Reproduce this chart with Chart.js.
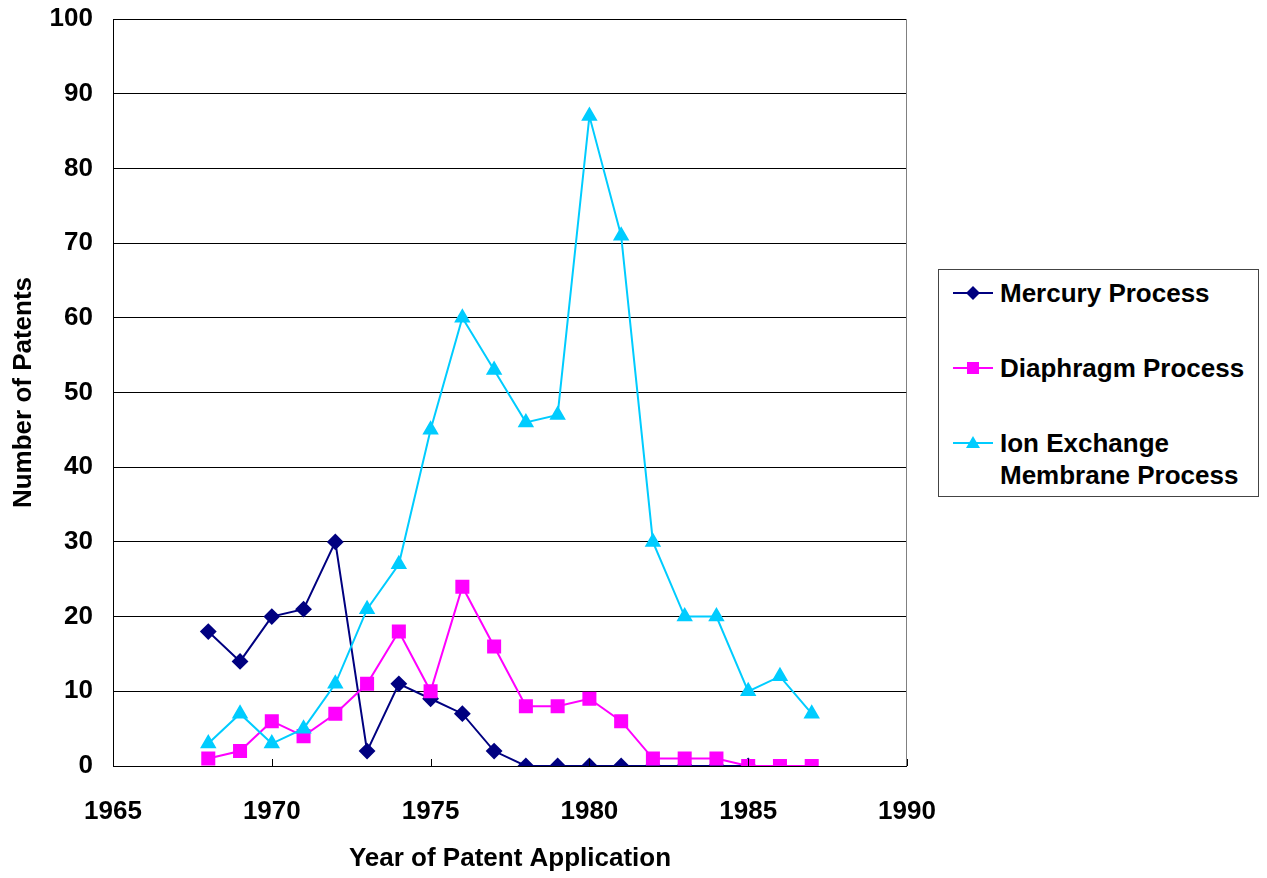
<!DOCTYPE html>
<html><head><meta charset="utf-8">
<script src="https://cdn.jsdelivr.net/npm/chart.js@4/dist/chart.umd.min.js"></script>
<style>
html,body{margin:0;padding:0;background:#fff;}
#wrap{position:relative;width:1267px;height:878px;}
#legend{position:absolute;left:938px;top:269px;width:321px;height:228px;border:1px solid #444;box-sizing:border-box;background:#fff;font-family:"Liberation Sans",Arial,sans-serif;font-weight:bold;font-size:26px;color:#000;}
#legend svg{position:absolute;left:14px;}
#legend span{position:absolute;left:61px;line-height:32px;white-space:nowrap;}
</style></head>
<body><div id="wrap"><canvas id="c" width="1267" height="878"></canvas>
<div id="legend"></div></div>
<script>
const years = [1968,1969,1970,1971,1972,1973,1974,1975,1976,1977,1978,1979,1980,1981,1982,1983,1984,1985,1986,1987];
const mercury = [18,14,20,21,30,2,11,9,7,2,0,0,0,0,0,0,0,0];
const diaphragm = [1,2,6,4,7,11,18,10,24,16,8,8,9,6,1,1,1,0,0,0];
const ionExchange = [3,7,3,5,11,21,27,45,60,53,46,47,87,71,30,20,20,10,12,7];
const seriesNames = ["Mercury Process","Diaphragm Process","Ion Exchange Membrane Process"];
const xTicks = [1965,1970,1975,1980,1985,1990];
const yTicks = [0,10,20,30,40,50,60,70,80,90,100];

const FONT = '"Liberation Sans", Arial, sans-serif';
const toPts = v => v.map((y,i)=>({x:years[i], y}));
const colors = ['#000080','#FF00FF','#00CCFF'];

const innerTicks = {
  id:'innerTicks',
  afterDatasetsDraw(chart){
    const {ctx, chartArea:a, scales:{x}} = chart;
    ctx.save();
    ctx.strokeStyle='#000'; ctx.lineWidth=1;
    xTicks.forEach(t=>{
      const px = Math.round(x.getPixelForValue(t))+0.5;
      ctx.beginPath(); ctx.moveTo(px,a.bottom); ctx.lineTo(px,a.bottom-7); ctx.stroke();
    });
    ctx.beginPath();
    ctx.moveTo(a.left+0.5,a.top); ctx.lineTo(a.left+0.5,a.bottom+0.5); ctx.lineTo(a.right,a.bottom+0.5); ctx.stroke();
    ctx.strokeStyle='#808080';
    ctx.beginPath(); ctx.moveTo(a.right-0.5,a.top); ctx.lineTo(a.right-0.5,a.bottom); ctx.stroke();
    ctx.restore();
  }
};

new Chart(document.getElementById('c'), {
  type:'line',
  data:{datasets:[
    {label:seriesNames[0], data:toPts(mercury), borderColor:colors[0], backgroundColor:colors[0], pointStyle:'rectRot', pointRadius:7, pointHoverRadius:7, borderWidth:2, order:3},
    {label:seriesNames[1], data:toPts(diaphragm), borderColor:colors[1], backgroundColor:colors[1], pointStyle:'rect', pointRadius:8.5, pointHoverRadius:8.5, borderWidth:2, order:2},
    {label:seriesNames[2], data:toPts(ionExchange), borderColor:colors[2], backgroundColor:colors[2], pointStyle:'triangle', pointRadius:7.5, pointHoverRadius:7.5, borderWidth:2, order:1}
  ]},
  options:{
    responsive:false, animation:false,
    layout:{padding:{left:0,right:360,top:19,bottom:0}},
    plugins:{legend:{display:false}, tooltip:{enabled:false}},
    scales:{
      x:{type:'linear', min:1965, max:1990,
        afterBuildTicks:s=>{s.ticks=xTicks.map(v=>({value:v}));},
        afterFit:s=>{s.height=112; s.paddingLeft=0; s.paddingRight=0;},
        grid:{display:false, drawTicks:false},
        border:{display:false},
        ticks:{color:'#000', font:{family:FONT,size:26,weight:'bold'}, padding:30, maxRotation:0, callback:v=>String(v)},
        title:{display:true, text:'Year of Patent Application', color:'#000', font:{family:FONT,size:26,weight:'bold'}, padding:{top:12}}
      },
      y:{min:0, max:100,
        afterBuildTicks:s=>{s.ticks=yTicks.map(v=>({value:v}));},
        afterFit:s=>{s.width=113; s.paddingTop=0; s.paddingBottom=0;},
        grid:{color:'#000', lineWidth:1, drawTicks:false},
        border:{display:false},
        ticks:{color:'#000', font:{family:FONT,size:26,weight:'bold'}, padding:20},
        title:{display:true, text:'Number of Patents', color:'#000', font:{family:FONT,size:26,weight:'bold'}, padding:{top:8,bottom:0}}
      }
    }
  },
  plugins:[innerTicks]
});

// HTML legend built from series names
const leg = document.getElementById('legend');
const shapes = [
  '<polygon points="20,0 27,7 20,14 13,7" fill="'+colors[0]+'"/>',
  '<rect x="14" y="1" width="12" height="12" fill="'+colors[1]+'"/>',
  '<polygon points="20,0 27,12 13,12" fill="'+colors[2]+'"/>'
];
const labelsHtml = ['Mercury Process','Diaphragm Process','Ion Exchange<br>Membrane Process'];
const centers = [23,98,173];
seriesNames.forEach((n,i)=>{
  const s = document.createElementNS('http://www.w3.org/2000/svg','svg');
  s.setAttribute('width','40'); s.setAttribute('height','14');
  s.style.top = (centers[i]-7)+'px';
  s.innerHTML = '<line x1="0" y1="7" x2="40" y2="7" stroke="'+colors[i]+'" stroke-width="2"/>'+shapes[i];
  leg.appendChild(s);
  const t = document.createElement('span');
  t.style.top = (centers[i]-16)+'px';
  t.innerHTML = labelsHtml[i];
  leg.appendChild(t);
});
</script></body></html>
